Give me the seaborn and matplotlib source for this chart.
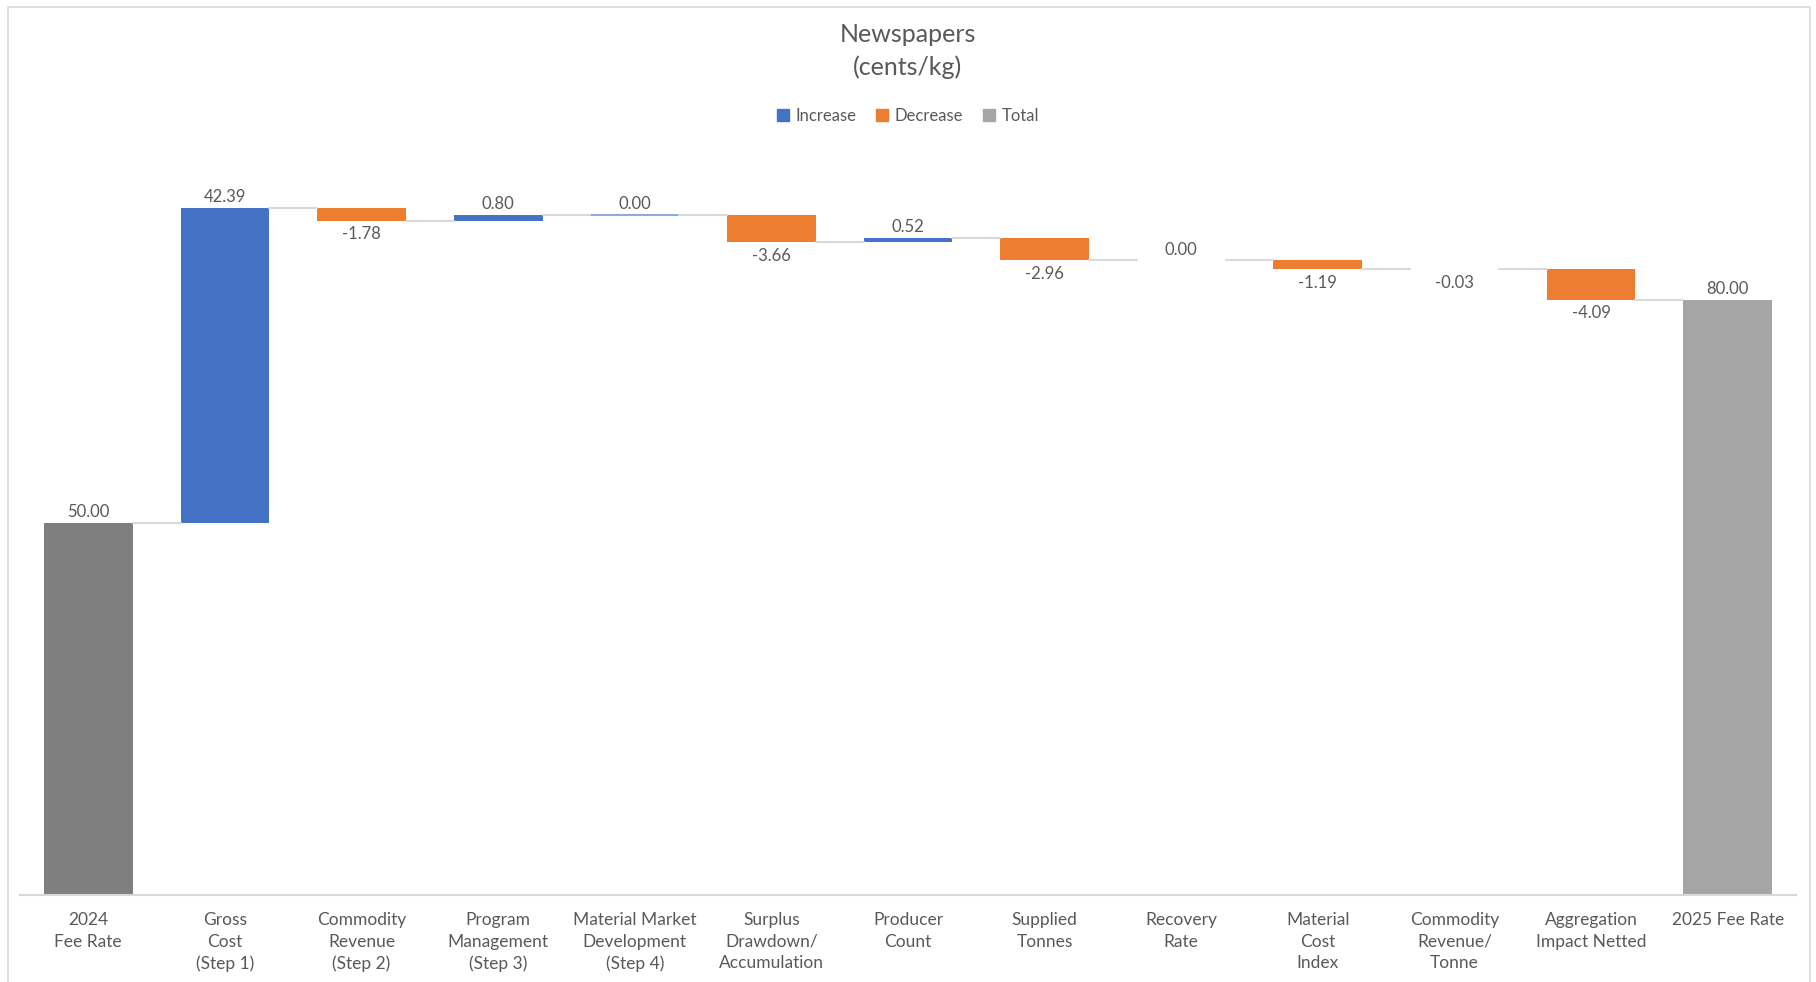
import matplotlib
matplotlib.use("Agg")
import matplotlib.pyplot as plt
import seaborn as sns
import numpy as np
import pandas as pd
from matplotlib.patches import Patch, Rectangle

# data
categories = ["2024\nFee Rate", "Gross\nCost\n(Step 1)", "Commodity\nRevenue\n(Step 2)",
              "Program\nManagement\n(Step 3)", "Material Market\nDevelopment\n(Step 4)",
              "Surplus\nDrawdown/\nAccumulation", "Producer\nCount", "Supplied\nTonnes",
              "Recovery\nRate", "Material\nCost\nIndex", "Commodity\nRevenue/\nTonne",
              "Aggregation\nImpact Netted", "2025 Fee Rate"]
start_fee = 50.00
changes = [42.39, -1.78, 0.80, 0.00, -3.66, 0.52, -2.96, 0.00, -1.19, -0.03, -4.09]
end_fee = 80.00

TXT = '#595959'
BLUE = '#4472C4'
ORANGE = '#ED7D31'
GREY_START = '#7F7F7F'
GREY_END = '#A5A5A5'
LINE = '#D9D9D9'

sns.set_theme(style="white")
plt.rcParams['font.family'] = ['Lato', 'DejaVu Sans']

# build the waterfall table
level = np.cumsum([start_fee] + changes)
values = [start_fee] + changes + [end_fee]
bottoms = [0.0]
heights = [start_fee]
kinds = ['start']
for i, c in enumerate(changes, start=1):
    bottoms.append(min(level[i - 1], level[i]))
    heights.append(abs(c))
    kinds.append('inc' if c >= 0 else 'dec')
bottoms.append(0.0)
heights.append(end_fee)
kinds.append('end')

df = pd.DataFrame({'category': categories, 'value': values, 'bottom': bottoms,
                   'height': heights, 'kind': kinds})
colors = {'start': GREY_START, 'end': GREY_END, 'inc': BLUE, 'dec': ORANGE}

fig = plt.figure(figsize=(18.16, 9.82), dpi=100)
ax = fig.add_axes([20 / 1816, 1 - 895 / 982, 1776 / 1816, (895 - 151) / 982])

bw = 0.65
for i, row in df.iterrows():
    # zero-height bar for market development shows as a thin light line in the original
    edge = '#8FAADC' if (row['kind'] == 'inc' and row['height'] == 0 and i == 4) else 'none'
    sns.barplot(x=[row['category']], y=[row['height']], bottom=row['bottom'],
                order=categories, color=colors[row['kind']], saturation=1,
                width=bw, edgecolor=edge, linewidth=1.5, ax=ax)
    if row['kind'] == 'dec':
        ax.annotate(f"{row['value']:.2f}", (i, row['bottom']), xytext=(0, -4),
                    textcoords='offset points', ha='center', va='top',
                    fontsize=12, color=TXT)
    else:
        ax.annotate(f"{row['value']:.2f}", (i, row['bottom'] + row['height']), xytext=(0, 2),
                    textcoords='offset points', ha='center', va='bottom',
                    fontsize=12, color=TXT)

# connector lines
for i in range(len(categories) - 1):
    ax.plot([i + bw / 2, i + 1 - bw / 2], [level[i], level[i]], color=LINE, lw=1.5, zorder=1)

ax.set_xlim(-0.5, len(categories) - 0.5)
ax.set_ylim(0, 100)
ax.set_xlabel('')
ax.set_ylabel('')
ax.set_yticks([])
for s in ['top', 'left', 'right']:
    ax.spines[s].set_visible(False)
ax.spines['bottom'].set_color(LINE)
ax.spines['bottom'].set_linewidth(1.5)
ax.tick_params(axis='x', length=0, pad=12, labelsize=12.5, labelcolor=TXT)
for lbl in ax.get_xticklabels():
    lbl.set_linespacing(1.45)

fig.text(0.5, 1 - 51 / 982, 'Newspapers\n(cents/kg)', ha='center', va='center',
         fontsize=18, color=TXT, linespacing=1.5)

handles = [Patch(color=BLUE), Patch(color=ORANGE), Patch(color=GREY_END)]
fig.legend(handles, ['Increase', 'Decrease', 'Total'], loc='center',
           bbox_to_anchor=(0.5, 1 - 116 / 982), ncol=3, frameon=False,
           handlelength=0.7, handleheight=0.7, handletextpad=0.4, columnspacing=1.2,
           fontsize=12, labelcolor=TXT)

fig.add_artist(Rectangle((8 / 1816, -0.1), (1810 - 8) / 1816, 1.1 - 7 / 982,
                         transform=fig.transFigure, fill=False, edgecolor=LINE, lw=1.2))

fig.savefig('out.png', dpi=100)
